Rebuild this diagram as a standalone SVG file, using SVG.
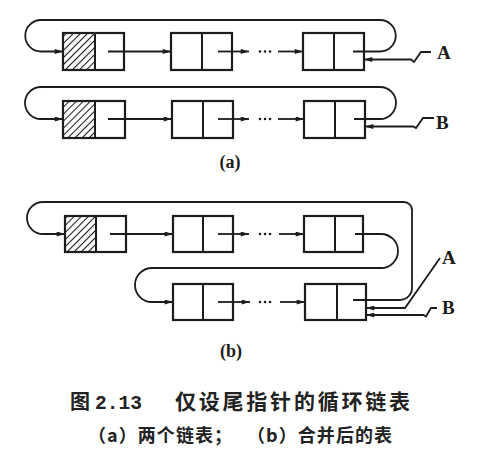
<svg xmlns="http://www.w3.org/2000/svg" width="496" height="465" viewBox="0 0 496 465">
<defs>
<style>
.box{fill:none;stroke:#1c1c1c;stroke-width:2.2}
.div{stroke:#1c1c1c;stroke-width:2}
.ca{fill:none;stroke:#1c1c1c;stroke-width:1.8;marker-end:url(#ah)}
.dot{fill:#1c1c1c}
.lbl{font-family:"Liberation Serif",serif;font-weight:bold;font-size:19px;fill:#1c1c1c}
.sub{font-family:"Liberation Serif",serif;font-weight:bold;font-size:18px;fill:#1c1c1c;text-anchor:middle}
.cap{font-family:"Noto Sans CJK SC",sans-serif;font-weight:bold;fill:#222}
.num{font-family:"Liberation Mono",monospace;font-weight:bold;font-size:20px;fill:#222}
</style>
<marker id="ah" viewBox="0 0 10 6" refX="10" refY="3" markerWidth="10" markerHeight="5" markerUnits="userSpaceOnUse" orient="auto">
<path d="M0,0 L10,3 L0,6 z" fill="#1c1c1c"/>
</marker>
<pattern id="hatch" width="5" height="5" patternUnits="userSpaceOnUse" patternTransform="rotate(45)">
<line x1="0" y1="0" x2="0" y2="5" stroke="#1c1c1c" stroke-width="2.1"/>
</pattern>
</defs>
<rect width="496" height="465" fill="#fff"/>

<!-- part (a), list A -->
<g id="a-head"><rect x="63" y="33" width="32" height="37" fill="url(#hatch)"/><rect class="box" x="63" y="33" width="61" height="37"/><line class="div" x1="95" y1="33" x2="95" y2="70"/></g>
<g id="a-n2"><rect class="box" x="171" y="33" width="61" height="37"/><line class="div" x1="202" y1="33" x2="202" y2="70"/></g>
<g id="a-n3"><rect class="box" x="303" y="33" width="61" height="37"/><line class="div" x1="334" y1="33" x2="334" y2="70"/></g>

<!-- part (a), list B -->
<g id="b-head"><rect x="63" y="101" width="32" height="37" fill="url(#hatch)"/><rect class="box" x="63" y="101" width="62" height="37"/><line class="div" x1="95" y1="101" x2="95" y2="138"/></g>
<g id="b-n2"><rect class="box" x="172" y="101" width="61" height="37"/><line class="div" x1="203" y1="101" x2="203" y2="138"/></g>
<g id="b-n3"><rect class="box" x="304" y="101" width="61" height="37"/><line class="div" x1="335" y1="101" x2="335" y2="138"/></g>

<!-- part (b) -->
<g id="m-head"><rect x="65" y="216" width="31" height="36" fill="url(#hatch)"/><rect class="box" x="65" y="216" width="61" height="36"/><line class="div" x1="96" y1="216" x2="96" y2="252"/></g>
<g id="m-n2"><rect class="box" x="173" y="216" width="60" height="36"/><line class="div" x1="203" y1="216" x2="203" y2="252"/></g>
<g id="m-n3"><rect class="box" x="304" y="216" width="59" height="36"/><line class="div" x1="335" y1="216" x2="335" y2="252"/></g>
<g id="m-n4"><rect class="box" x="173" y="284" width="60" height="36"/><line class="div" x1="203" y1="284" x2="203" y2="320"/></g>
<g id="m-n5"><rect class="box" x="305" y="284" width="61" height="36"/><line class="div" x1="337" y1="284" x2="337" y2="320"/></g>

<g id="connectors">
<!-- list A -->
<path class="ca" d="M108,51.5 H171"/>
<path class="ca" d="M218,51.5 H249"/>
<circle class="dot" cx="260" cy="51.5" r="1.3"/><circle class="dot" cx="265" cy="51.5" r="1.3"/><circle class="dot" cx="270" cy="51.5" r="1.3"/>
<path class="ca" d="M278,51.5 H303"/>
<path class="ca" d="M353,51.5 H380 A15.75,15.75 0 0 0 380,20 H41 A15.75,15.75 0 0 0 41,51.5 H63"/>
<path class="ca" d="M431,52 H421 L414,62 L411,59.5 H364"/>
<!-- list B -->
<path class="ca" d="M108,119 H172"/>
<path class="ca" d="M218,119 H249"/>
<circle class="dot" cx="260" cy="119" r="1.3"/><circle class="dot" cx="265" cy="119" r="1.3"/><circle class="dot" cx="270" cy="119" r="1.3"/>
<path class="ca" d="M278,119 H304"/>
<path class="ca" d="M354,119 H380 A16,16 0 0 0 380,87 H41 A16,16 0 0 0 41,119 H63"/>
<path class="ca" d="M434,118 H423 L416,128 L413,126.5 H365"/>
<!-- merged list -->
<path class="ca" d="M110,234 H173"/>
<path class="ca" d="M218,234 H249"/>
<circle class="dot" cx="260" cy="234" r="1.3"/><circle class="dot" cx="265" cy="234" r="1.3"/><circle class="dot" cx="270" cy="234" r="1.3"/>
<path class="ca" d="M279,234 H304"/>
<path class="ca" d="M355,234 H381 A17,17 0 0 1 381,268 H152 A17,17 0 0 0 152,302 H173"/>
<path class="ca" d="M218,302 H250"/>
<circle class="dot" cx="260" cy="302" r="1.3"/><circle class="dot" cx="265" cy="302" r="1.3"/><circle class="dot" cx="270" cy="302" r="1.3"/>
<path class="ca" d="M280,302 H305"/>
<path class="ca" d="M353,300 H400 A12,12 0 0 0 412,288 V210 A8,8 0 0 0 404,202 H43 A16,16 0 0 0 43,234 H65"/>
<path class="ca" d="M440,258 L405,308 H366"/>
<path class="ca" d="M437,308 H431 L426,316.5 L423.5,315 H366"/>
</g>

<g id="labels">
<text class="lbl" x="437" y="59">A</text>
<text class="lbl" x="436" y="129">B</text>
<text class="sub" x="230" y="168">(a)</text>
<text class="lbl" x="442" y="264">A</text>
<text class="lbl" x="442" y="314">B</text>
<text class="sub" x="231" y="357">(b)</text>
</g>

<g id="caption">
<text class="cap" x="70" y="409" font-size="20">图</text>
<text class="num" x="95" y="409" textLength="47" lengthAdjust="spacingAndGlyphs">2.13</text>
<text class="cap" x="175" y="409" font-size="21" textLength="235" lengthAdjust="spacing">仅设尾指针的循环链表</text>
<text class="cap" x="88" y="442" font-size="18" textLength="144" lengthAdjust="spacing">（a）两个链表；</text>
<text class="cap" x="247" y="442" font-size="18" textLength="145" lengthAdjust="spacing">（b）合并后的表</text>
</g>
</svg>
